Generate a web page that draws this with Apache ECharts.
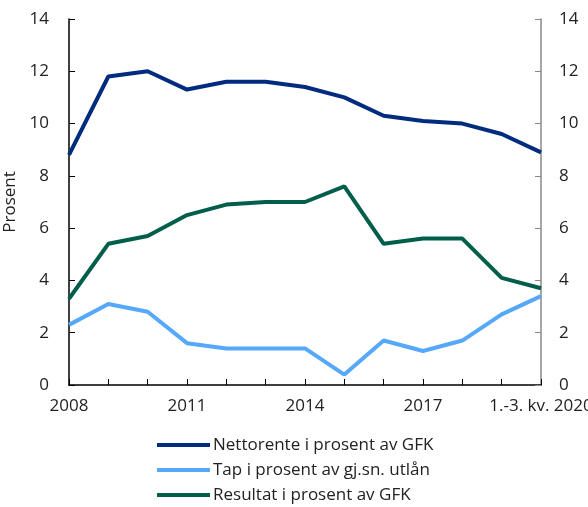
<!DOCTYPE html>
<html>
<head>
<meta charset="utf-8">
<script src="https://cdn.jsdelivr.net/npm/echarts@6/dist/echarts.min.js"></script>
<style>
  html, body { margin: 0; padding: 0; background: #fff; }
  #chart { width: 588px; height: 507px; }
</style>
</head>
<body>
<div id="chart"></div>
<script>
// kategorier (år)
var years = ['2008', '2009', '2010', '2011', '2012', '2013', '2014', '2015', '2016', '2017', '2018', '2019', '1.-3. kv. 2020'];
// serier
var nettorente = [8.8, 11.8, 12.0, 11.3, 11.6, 11.6, 11.4, 11.0, 10.3, 10.1, 10.0, 9.6, 8.9];
var tap = [2.3, 3.1, 2.8, 1.6, 1.4, 1.4, 1.4, 0.4, 1.7, 1.3, 1.7, 2.7, 3.4];
var resultat = [3.3, 5.4, 5.7, 6.5, 6.9, 7.0, 7.0, 7.6, 5.4, 5.6, 5.6, 4.1, 3.7];
var seriesNames = ['Nettorente i prosent av GFK', 'Tap i prosent av gj.sn. utlån', 'Resultat i prosent av GFK'];
var colors = ['#002b7f', '#56a8fa', '#005e4a'];

var font = 'Open Sans';
var myChart = echarts.init(document.getElementById('chart'));

var option = {
  animation: false,
  textStyle: { fontFamily: font },
  grid: { left: 69, right: 47, top: 19, bottom: 122, outerBoundsMode: 'none', containLabel: false },
  legend: {
    orient: 'vertical', left: 157, top: 435, padding: 0,
    itemWidth: 53, itemHeight: 4, itemGap: 5, icon: 'rect',
    textStyle: { fontSize: 17, color: '#222', lineHeight: 20, padding: [0, 0, 0, -2] },
    data: seriesNames
  },
  xAxis: {
    type: 'category', data: years, boundaryGap: false,
    axisLine: { lineStyle: { color: '#000', width: 1.5 } },
    axisTick: { inside: true, length: 6, interval: 0, lineStyle: { color: '#000' } },
    axisLabel: {
      interval: 2, fontSize: 17, color: '#222', margin: 13, fontFamily: font,
      align: 'center', alignMinLabel: 'center', alignMaxLabel: 'center'
    },
    splitLine: { show: false }
  },
  yAxis: [
    {
      type: 'value', min: 0, max: 14, interval: 2,
      name: 'Prosent', nameLocation: 'middle', nameGap: 35, nameRotate: 90,
      nameTextStyle: { fontSize: 17, color: '#222', fontFamily: font },
      axisLine: { show: true, lineStyle: { color: '#000', width: 1.5 } },
      axisTick: { show: true, inside: true, length: 6, lineStyle: { color: '#000' } },
      axisLabel: { fontSize: 17, color: '#222', margin: 20, fontFamily: font },
      splitLine: { show: false }
    },
    {
      type: 'value', min: 0, max: 14, interval: 2, position: 'right',
      axisLine: { show: true, lineStyle: { color: '#888', width: 1.5 } },
      axisTick: { show: true, inside: true, length: 6, lineStyle: { color: '#888' } },
      axisLabel: { fontSize: 17, color: '#222', margin: 18, fontFamily: font },
      splitLine: { show: false }
    }
  ],
  series: [
    { name: seriesNames[0], data: nettorente, color: colors[0] },
    { name: seriesNames[1], data: tap, color: colors[1] },
    { name: seriesNames[2], data: resultat, color: colors[2] }
  ].map(function (s) {
    return {
      name: s.name, type: 'line', data: s.data, showSymbol: false, symbol: 'none',
      itemStyle: { color: s.color }, lineStyle: { color: s.color, width: 4 }
    };
  })
};

myChart.setOption(option);
</script>
</body>
</html>
